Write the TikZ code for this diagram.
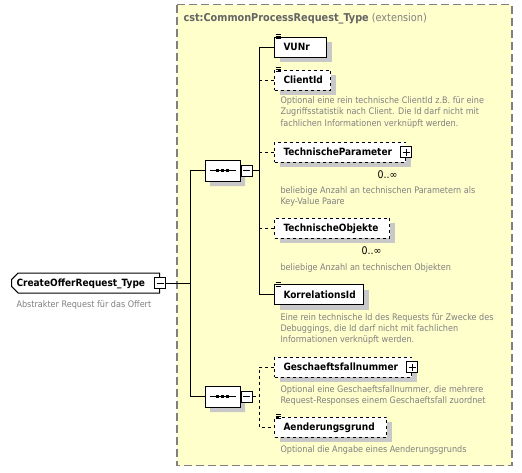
\documentclass[tikz,border=0pt]{standalone}
\usepackage{fontspec}
\setmainfont{DejaVu Sans Condensed}
\usetikzlibrary{shapes.misc,shadows}
\definecolor{extfill}{RGB}{255,255,204}
\definecolor{extborder}{RGB}{128,128,128}
\definecolor{doctext}{RGB}{128,128,128}
\definecolor{titletext}{RGB}{100,100,100}
\definecolor{shadowgray}{RGB}{200,200,200}

\begin{document}
\begin{tikzpicture}[
  x=1pt,y=-1pt,line width=1pt,
  elem/.style={draw,fill=white,anchor=west,align=left,inner xsep=9pt,inner ysep=0pt,minimum height=20pt,text height=8pt,text depth=1pt,font=\bfseries\fontsize{10}{12}\selectfont,drop shadow={shadow xshift=5pt,shadow yshift=-5pt,fill=shadowgray,opacity=1}},
  optelem/.style={elem,dashed},
  typebox/.style={chamfered rectangle,chamfered rectangle corners={north west,south west},chamfered rectangle xsep=3pt,draw,fill=white,anchor=west,align=left,inner xsep=2pt,inner ysep=0pt,minimum height=20pt,text height=8pt,text depth=1pt,font=\bfseries\fontsize{10}{12}\selectfont},
  seqbox/.style={chamfered rectangle,chamfered rectangle xsep=5pt,draw,fill=white,minimum width=35pt,minimum height=21pt,inner sep=0pt,drop shadow={shadow xshift=5pt,shadow yshift=-5pt,fill=shadowgray,opacity=1}},
  minusbox/.style={draw,fill=white,minimum size=11pt,inner sep=0pt,path picture={\draw ([xshift=2pt]path picture bounding box.west) -- ([xshift=-2pt]path picture bounding box.east);}},
  plusbox/.style={draw,fill=white,minimum size=11pt,inner sep=0pt,path picture={\draw ([xshift=2pt]path picture bounding box.west) -- ([xshift=-2pt]path picture bounding box.east) ([yshift=-2pt]path picture bounding box.north) -- ([yshift=2pt]path picture bounding box.south);}},
  doc/.style={anchor=base west,align=left,inner sep=0pt,text=doctext,font=\fontsize{9}{11.3}\selectfont},
  card/.style={anchor=base east,inner sep=0pt,font=\fontsize{10.5}{12}\selectfont}
]
  \useasboundingbox (0,0) rectangle (522,472);
  \draw[extborder,fill=extfill,dash pattern=on 8pt off 4pt,line width=1.5pt] (177,4.5) rectangle (512,465.5);
  \node[anchor=base west,inner sep=0pt,font=\fontsize{10.8}{13}\selectfont] (basetitle) at (183,21) {\textcolor{titletext}{\bfseries cst:CommonProcessRequest\_Type} \textcolor{doctext}{(extension)}};

  \node[typebox,text width=138pt] (offertype) at (11,283) {CreateOfferRequest\_Type};
  \node[minusbox] (offerminus) at (offertype.east) {};
  \node[doc] (offerdoc) at (16,307) {Abstrakter Request für das Offert};

  \node[seqbox] (seqbase) at (222.5,170.5) {};
  \node[minusbox,anchor=west] (seqbaseminus) at (seqbase.east) {};
  \node[seqbox] (seqext) at (222.5,396.5) {};
  \node[minusbox,anchor=west] (seqextminus) at (seqext.east) {};
  \foreach \sq in {seqbase,seqext} {
    \draw[shift={(\sq.center)}] (-13,0) -- (13,0);
    \foreach \dx in {-5,0,5}
      \fill[shift={(\sq.center)}] (\dx-1.5,-1.5) rectangle (\dx+1.5,1.5);
  }

  \node[elem,text width=34pt] (vunr) at (274,47) {VUNr};
  \node[optelem,text width=38pt] (clientid) at (274,80) {ClientId};
  \node[doc] (clientiddoc) at (280,126) {Optional eine rein technische ClientId z.B. für eine\\Zugriffsstatistik nach Client. Die Id darf nicht mit\\fachlichen Informationen verknüpft werden.};
  \node[optelem,text width=113pt] (tparam) at (274,152) {TechnischeParameter};
  \node[plusbox] (tparamplus) at (tparam.east) {};
  \node[card] (tparamcard) at ([shift={(-8,16)}]tparam.south east) {0..∞};
  \node[doc] (tparamdoc) at (280,204.3) {beliebige Anzahl an technischen Parametern als\\Key-Value Paare};
  \node[optelem,text width=97pt] (tobj) at (274,228) {TechnischeObjekte};
  \node[card] (tobjcard) at ([shift={(-8,16)}]tobj.south east) {0..∞};
  \node[doc] (tobjdoc) at (280,270) {beliebige Anzahl an technischen Objekten};
  \node[elem,text width=71pt] (korrid) at (274,294.5) {KorrelationsId};
  \node[doc] (korriddoc) at (280,342.6) {Eine rein technische Id des Requests für Zwecke des\\Debuggings, die Id darf nicht mit fachlichen\\Informationen verknüpft werden.};
  \node[optelem,text width=119pt] (gfnr) at (274,367) {Geschaeftsfallnummer};
  \node[plusbox] (gfnrplus) at (gfnr.east) {};
  \node[doc] (gfnrdoc) at (280,403.3) {Optional eine Geschaeftsfallnummer, die mehrere\\Request-Responses einem Geschaeftsfall zuordnet};
  \node[optelem,text width=94pt] (aendgrund) at (274,427) {Aenderungsgrund};
  \node[doc] (aendgrunddoc) at (280,452) {Optional die Angabe eines Aenderungsgrunds};
  \foreach \el in {vunr,clientid,korrid,aendgrund}
    \draw[line width=0.7pt,shift={(\el.north west)}] (1.5,-2) -- (7,-2) (1.5,0) -- (7,0) (1.5,2) -- (7,2);

  \coordinate (trunk) at (190,0);
  \coordinate (branchbase) at (259,0);
  \draw (offerminus.east) -- (offerminus.east -| trunk);
  \draw (seqbase.west) -- (seqbase.west -| trunk) -- (seqext.west -| trunk) -- (seqext.west);
  \draw (seqbaseminus.east) -- (seqbaseminus.east -| branchbase);
  \draw (vunr.west) -- (vunr.west -| branchbase) -- (korrid.west -| branchbase) -- (korrid.west);
  \draw[dashed] (clientid.west) -- (clientid.west -| branchbase);
  \draw[dashed] (tparam.west) -- (tparam.west -| branchbase);
  \draw[dashed] (tobj.west) -- (tobj.west -| branchbase);
  \draw[dashed] (seqextminus.east) -- (seqextminus.east -| branchbase);
  \draw[dashed] (gfnr.west) -- (gfnr.west -| branchbase) -- (aendgrund.west -| branchbase) -- (aendgrund.west);
\end{tikzpicture}
\end{document}
